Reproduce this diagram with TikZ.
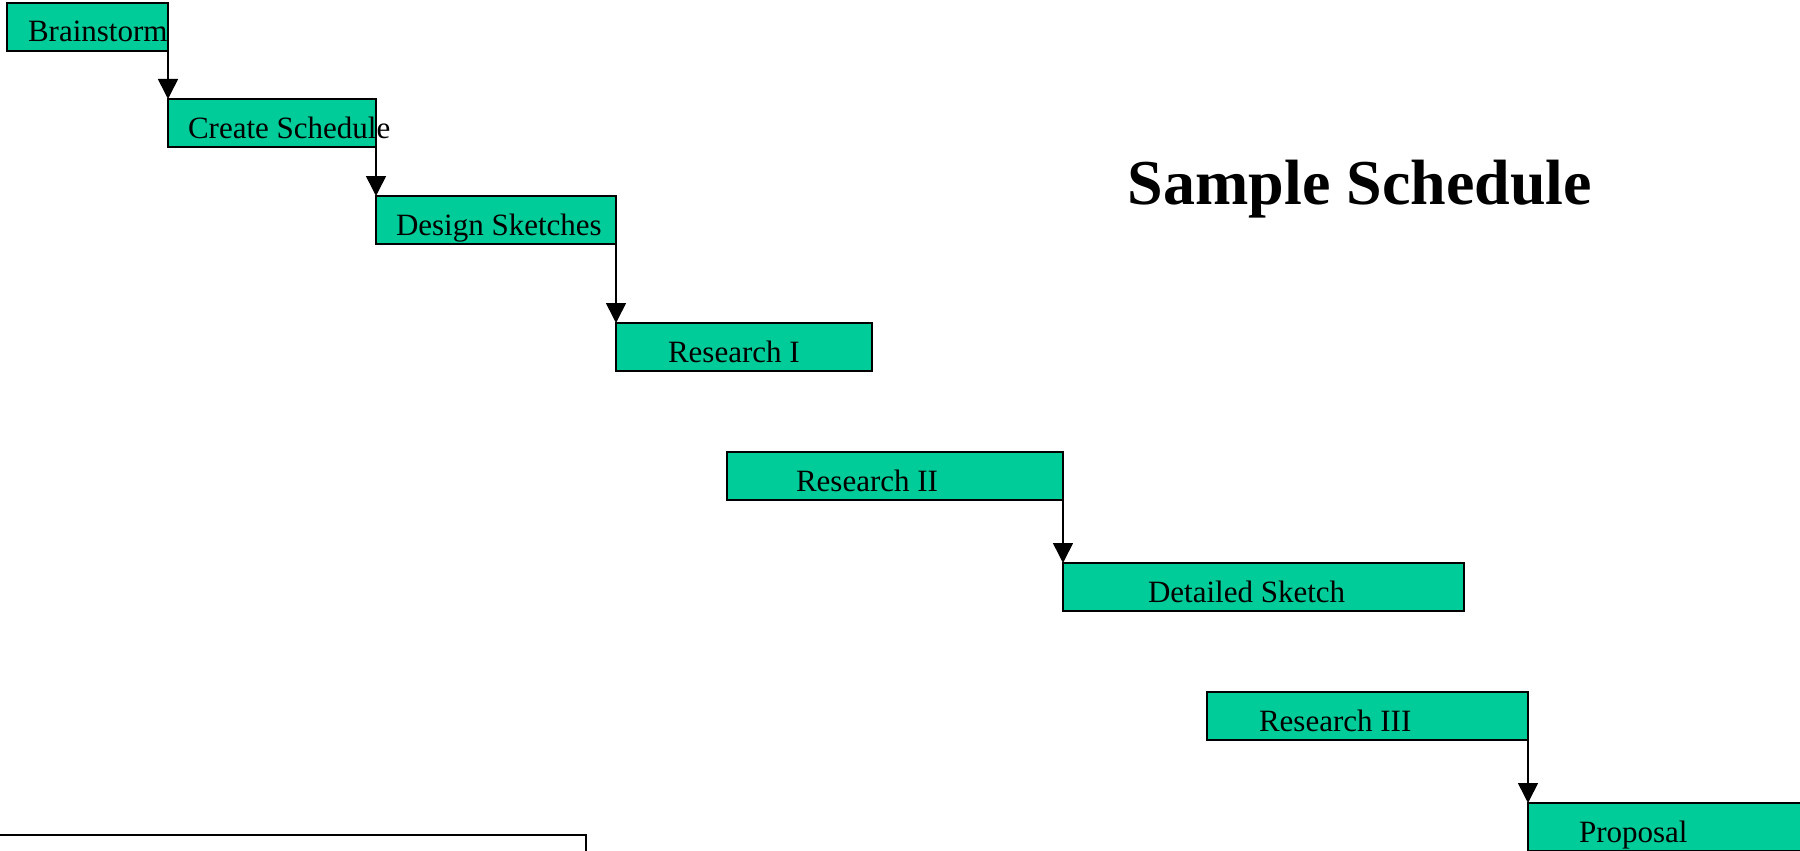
\documentclass[tikz,border=0pt]{standalone}
\usepackage{fontspec}
\setmainfont{Liberation Serif}
\usetikzlibrary{arrows.meta}
\definecolor{taskgreen}{HTML}{00CC99}
\newcommand{\tasklabel}[2]{\makebox[#1][l]{#2}}
\tikzset{
  task/.style={draw, line width=1.6pt, fill=taskgreen, anchor=north west,
    inner ysep=0pt, outer sep=0pt, text height=39pt, text depth=9pt,
    font=\fontsize{31}{36}\selectfont},
  flow/.style={line width=1.6pt, -{Triangle[width=20pt, length=20pt]}}
}
\begin{document}
\begin{tikzpicture}[x=1pt, y=-1pt]
        \useasboundingbox (0, 0) rectangle (1800, 851);
        \clip (0, 0) rectangle (1800, 851);
        % tasks
        \node[task, inner xsep=21pt] (brainstorm) at (7, 3) {\tasklabel{119pt}{Brainstorm}};
        \node[task, inner xsep=20pt] (schedule) at (168, 99) {\tasklabel{168pt}{Create Schedule}};
        \node[task, inner xsep=20pt] (sketches) at (376, 196) {\tasklabel{200pt}{Design Sketches}};
        \node[task, inner xsep=52pt] (research1) at (616, 323) {\tasklabel{152pt}{Research I}};
        \node[task, inner xsep=69pt] (research2) at (727, 452) {\tasklabel{198pt}{Research II}};
        \node[task, inner xsep=85pt] (detailed) at (1063, 563) {\tasklabel{231pt}{Detailed Sketch}};
        \node[task, inner xsep=52pt] (research3) at (1207, 692) {\tasklabel{217pt}{Research III}};
        \node[task, inner xsep=51pt] (proposal) at (1528, 803) {\tasklabel{200pt}{Proposal}};
        % empty box
        \node[draw, line width=1.6pt, outer sep=0pt, anchor=north east, minimum width=620pt, minimum height=60pt] (notes) at (586, 835) {};
        % title
        \node[anchor=base, font=\fontsize{64}{70}\selectfont\bfseries] (title) at (1360, 204) {Sample Schedule};
        % arrows
        \draw[flow] (brainstorm.south east) -- (schedule.north west);
        \draw[flow] (schedule.south east) -- (sketches.north west);
        \draw[flow] (sketches.south east) -- (research1.north west);
        \draw[flow] (research2.south east) -- (detailed.north west);
        \draw[flow] (research3.south east) -- (proposal.north west);
      \end{tikzpicture}
\end{document}
